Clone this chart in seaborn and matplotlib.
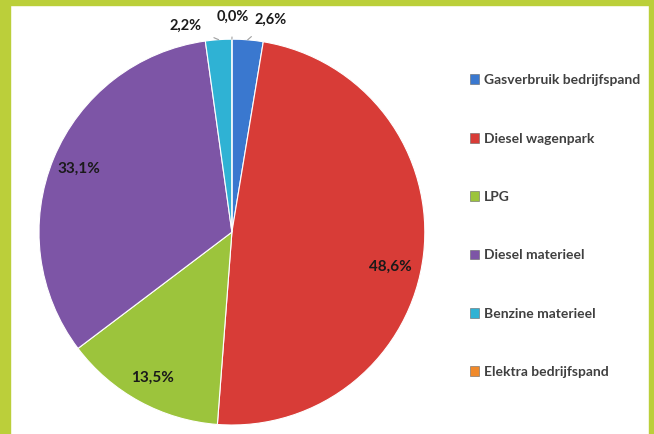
import numpy as np
import seaborn as sns
import matplotlib.pyplot as plt
from matplotlib.patches import Rectangle

categories = ["Gasverbruik bedrijfspand", "Diesel wagenpark", "LPG",
              "Diesel materieel", "Benzine materieel", "Elektra bedrijfspand"]
shares = [2.6, 48.6, 13.5, 33.1, 2.2, 0.0]
slice_colors = ["#3A78CF", "#D83C37", "#9CC43C", "#7D55A6", "#2FB2D4", "#F0892A"]

# label spots for the small slices, placed above the pie (data units)
outside_labels = {0: (0.20, 1.10), 4: (-0.24, 1.07), 5: (0.005, 1.115)}

sns.set_theme(style="white")
plt.rcParams['font.family'] = ['Lato', 'DejaVu Sans']

fig = plt.figure(figsize=(6.54, 4.34), dpi=100)
ax = fig.add_axes([0.0596, 0.0207, 0.590, 0.889])

palette = sns.color_palette(slice_colors)
wedges, _ = ax.pie(shares, colors=palette, startangle=90, counterclock=False,
                   wedgeprops=dict(edgecolor="white", linewidth=0.8))
ax.set_xlim(-1, 1)
ax.set_ylim(-1, 1)
ax.set_aspect("equal")

for i, (w, v) in enumerate(zip(wedges, shares)):
    txt = f"{v:.1f}%".replace(".", ",")
    ang = np.deg2rad((w.theta1 + w.theta2) / 2)
    if i in outside_labels:
        lx, ly = outside_labels[i]
        ex, ey = np.cos(ang), np.sin(ang)
        ax.annotate(txt, xy=(ex, ey), xytext=(lx, ly), ha="center", va="center",
                    fontsize=10.5, fontweight="bold", color="#1a1a1a",
                    arrowprops=dict(arrowstyle="-", color="#a0a0a0", lw=0.8,
                                    shrinkA=7, shrinkB=0),
                    annotation_clip=False)
    else:
        r = 0.86
        ax.text(r * np.cos(ang) - (0.03 if i == 1 else 0),
                r * np.sin(ang) - (0.08 if i == 1 else 0), txt,
                ha="center", va="center", fontsize=11, fontweight="bold", color="#1a1a1a")

handles = [Rectangle((0, 0), 1, 1, facecolor=c, edgecolor="#666666", lw=0.4) for c in slice_colors]
fig.legend(handles, categories, loc="center left", bbox_to_anchor=(0.699, 0.479),
           frameon=False, labelspacing=3.34, handlelength=0.7,
           handleheight=0.7, handletextpad=0.35, labelcolor="#404040",
           prop=dict(weight="bold", size=10))

# yellow-green frame
frame = "#BBCF3A"
fig.patches.append(Rectangle((0, 0), 10 / 654, 1, transform=fig.transFigure, color=frame, zorder=5))
fig.patches.append(Rectangle((0, 1 - 5 / 434), 1, 5 / 434, transform=fig.transFigure, color=frame, zorder=5))
fig.patches.append(Rectangle((1 - 5 / 654, 0), 5 / 654, 1, transform=fig.transFigure, color=frame, zorder=5))

fig.savefig("out.png", dpi=100)
